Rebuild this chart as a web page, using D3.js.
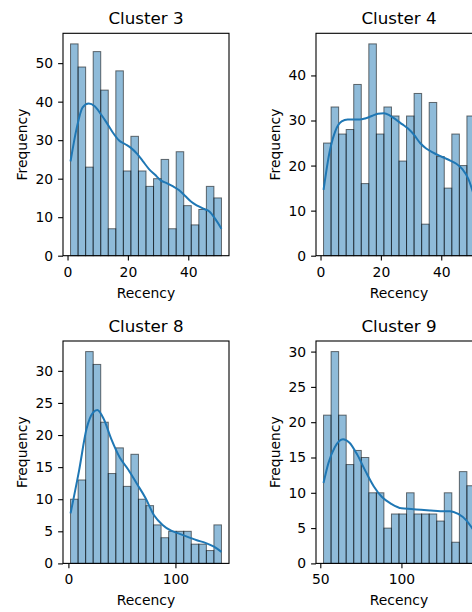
<!DOCTYPE html>
<html>
<head>
<meta charset="utf-8">
<script src="https://cdn.jsdelivr.net/npm/d3@7"></script>
<style>
  html, body { margin: 0; padding: 0; background: #fff; }
  svg { display: block; }
</style>
</head>
<body>
<div id="chart"></div>
<script>
// Recency histograms per cluster (seaborn-style hist + kde)
const clusterNames = ["Cluster 3", "Cluster 4", "Cluster 8", "Cluster 9"];

// Cluster 3
const cluster3Range = [1, 51];
const cluster3Counts = [55, 49, 23, 53, 43, 7, 48, 22, 31, 22, 18, 20, 25, 7, 27, 13, 8, 12, 18, 15];
const cluster3KdeX = [1, 3, 5, 7, 9, 11, 13, 15, 17, 19, 21, 23, 25, 27, 29, 31, 33, 35, 37, 39, 41, 43, 45, 47, 49, 51];
const cluster3KdeY = [24.5, 33, 38.5, 39.5, 38.8, 36.8, 34.5, 32, 30, 29, 28, 26.5, 24.5, 22.5, 21, 19.5, 18.8, 18, 17, 15.5, 14, 13, 12.2, 11.5, 9.5, 7];
const cluster3XTicks = [0, 20, 40];
const cluster3YTicks = [0, 10, 20, 30, 40, 50];

// Cluster 4
const cluster4Range = [1, 51];
const cluster4Counts = [25, 33, 27, 28, 38, 16, 47, 27, 33, 31, 21, 31, 36, 7, 34, 22, 15, 27, 20, 31];
const cluster4KdeX = [1, 3, 5, 7, 9, 11, 13, 15, 17, 19, 21, 23, 25, 27, 29, 31, 33, 35, 37, 39, 41, 43, 45, 47, 49, 51];
const cluster4KdeY = [14.6, 23, 27.8, 29.8, 30.2, 30.2, 30.2, 30.5, 31, 31.5, 31.6, 31.1, 30.2, 29.2, 28.2, 26.8, 25, 23.8, 23, 22.3, 21.7, 21.1, 20.4, 19.2, 17, 13];
const cluster4XTicks = [0, 20, 40];
const cluster4YTicks = [0, 10, 20, 30, 40];

// Cluster 8
const cluster8Range = [2, 143];
const cluster8Counts = [10, 13, 33, 31, 22, 14, 18, 12, 17, 10, 9, 6, 4, 5, 5, 5, 3, 3, 2, 6];
const cluster8KdeX = [2, 10, 17, 23, 27, 33, 40, 48, 56, 64, 72, 80, 88, 96, 104, 112, 120, 128, 136, 143];
const cluster8KdeY = [7.8, 14.5, 21, 23.5, 23.9, 22.5, 19.4, 16.5, 14.6, 12.4, 10.2, 7.5, 6, 5.1, 4.6, 4.1, 3.6, 3.2, 2.6, 1.8];
const cluster8XTicks = [0, 100];
const cluster8YTicks = [0, 5, 10, 15, 20, 25, 30];

// Cluster 9
const cluster9Range = [52, 145];
const cluster9Counts = [21, 30, 21, 14, 16, 15, 10, 10, 5, 7, 7, 10, 7, 7, 7, 6, 10, 3, 13, 11];
const cluster9KdeX = [52, 55, 59, 64, 68, 73, 78, 83, 88, 94, 100, 106, 112, 118, 124, 130, 135, 140, 145];
const cluster9KdeY = [11.4, 14.2, 16.5, 17.6, 17.1, 15.3, 13, 10.9, 9.4, 8.4, 7.8, 7.7, 7.6, 7.5, 7.4, 7.4, 7, 6.1, 4.5];
const cluster9XTicks = [50, 100, 150];
const cluster9YTicks = [0, 5, 10, 15, 20, 25, 30];

const xLabel = "Recency";
const yLabel = "Frequency";

// panel table built from the arrays above
const panels = [
  { name: clusterNames[0], range: cluster3Range, counts: cluster3Counts, kdeX: cluster3KdeX, kdeY: cluster3KdeY, xTicks: cluster3XTicks, yTicks: cluster3YTicks },
  { name: clusterNames[1], range: cluster4Range, counts: cluster4Counts, kdeX: cluster4KdeX, kdeY: cluster4KdeY, xTicks: cluster4XTicks, yTicks: cluster4YTicks },
  { name: clusterNames[2], range: cluster8Range, counts: cluster8Counts, kdeX: cluster8KdeX, kdeY: cluster8KdeY, xTicks: cluster8XTicks, yTicks: cluster8YTicks },
  { name: clusterNames[3], range: cluster9Range, counts: cluster9Counts, kdeX: cluster9KdeX, kdeY: cluster9KdeY, xTicks: cluster9XTicks, yTicks: cluster9YTicks }
];

const W = 472, H = 612;
const colLeft = [63, 316];
const rowTop = [33.3, 341];
const axW = 166, axH = 222.4;
const font = "'DejaVu Sans', sans-serif";
const blue = "#1f77b4";

const svg = d3.select("#chart").append("svg")
  .attr("width", W)
  .attr("height", H)
  .style("font-family", font);

svg.append("rect").attr("width", W).attr("height", H).attr("fill", "#fff");

panels.forEach((p, i) => {
  const left = colLeft[i % 2];
  const top = rowTop[Math.floor(i / 2)];
  const g = svg.append("g").attr("transform", `translate(${left},${top})`);

  const [lo, hi] = p.range;
  const pad = (hi - lo) * 0.05;
  const x = d3.scaleLinear().domain([lo - pad, hi + pad]).range([0, axW]);
  const y = d3.scaleLinear().domain([0, d3.max(p.counts) * 1.05]).range([axH, 0]);
  const binW = (hi - lo) / p.counts.length;

  // bars
  g.selectAll("rect.bar")
    .data(p.counts)
    .enter().append("rect")
    .attr("class", "bar")
    .attr("x", (d, j) => x(lo + j * binW))
    .attr("width", (d, j) => x(lo + (j + 1) * binW) - x(lo + j * binW))
    .attr("y", d => y(d))
    .attr("height", d => axH - y(d))
    .attr("fill", blue)
    .attr("fill-opacity", 0.5)
    .attr("stroke", "#000")
    .attr("stroke-opacity", 0.55)
    .attr("stroke-width", 1);

  // kde line
  const kde = p.kdeX.map((v, j) => [v, p.kdeY[j]]);
  g.append("path")
    .datum(kde)
    .attr("fill", "none")
    .attr("stroke", blue)
    .attr("stroke-width", 2)
    .attr("d", d3.line().x(d => x(d[0])).y(d => y(d[1])).curve(d3.curveMonotoneX));

  // axes
  const xAxis = g.append("g")
    .attr("transform", `translate(0,${axH})`)
    .call(d3.axisBottom(x).tickValues(p.xTicks.filter(t => t <= hi + pad)).tickSize(4.9).tickSizeOuter(0).tickFormat(d3.format("d")));
  xAxis.selectAll("text").attr("y", 21).attr("dy", null);

  const yAxis = g.append("g")
    .call(d3.axisLeft(y).tickValues(p.yTicks).tickSize(4.9).tickPadding(4.9).tickSizeOuter(0).tickFormat(d3.format("d")));

  [xAxis, yAxis].forEach(a => {
    a.select(".domain").remove();
    a.selectAll("line").attr("stroke", "#000").attr("stroke-width", 1.1);
    a.selectAll("text").attr("fill", "#000").style("font-size", "13.9px").style("font-family", font);
  });

  // spines
  g.append("rect")
    .attr("width", axW)
    .attr("height", axH)
    .attr("fill", "none")
    .attr("stroke", "#000")
    .attr("stroke-width", 1.1);

  // title and labels
  g.append("text")
    .attr("x", axW / 2)
    .attr("y", -9.5)
    .attr("text-anchor", "middle")
    .style("font-size", "16.7px")
    .text(p.name);

  g.append("text")
    .attr("x", axW / 2)
    .attr("y", axH + 42)
    .attr("text-anchor", "middle")
    .style("font-size", "13.9px")
    .text(xLabel);

  g.append("text")
    .attr("transform", `translate(-36.5,${axH / 2}) rotate(-90)`)
    .attr("text-anchor", "middle")
    .style("font-size", "13.9px")
    .text(yLabel);
});
</script>
</body>
</html>
